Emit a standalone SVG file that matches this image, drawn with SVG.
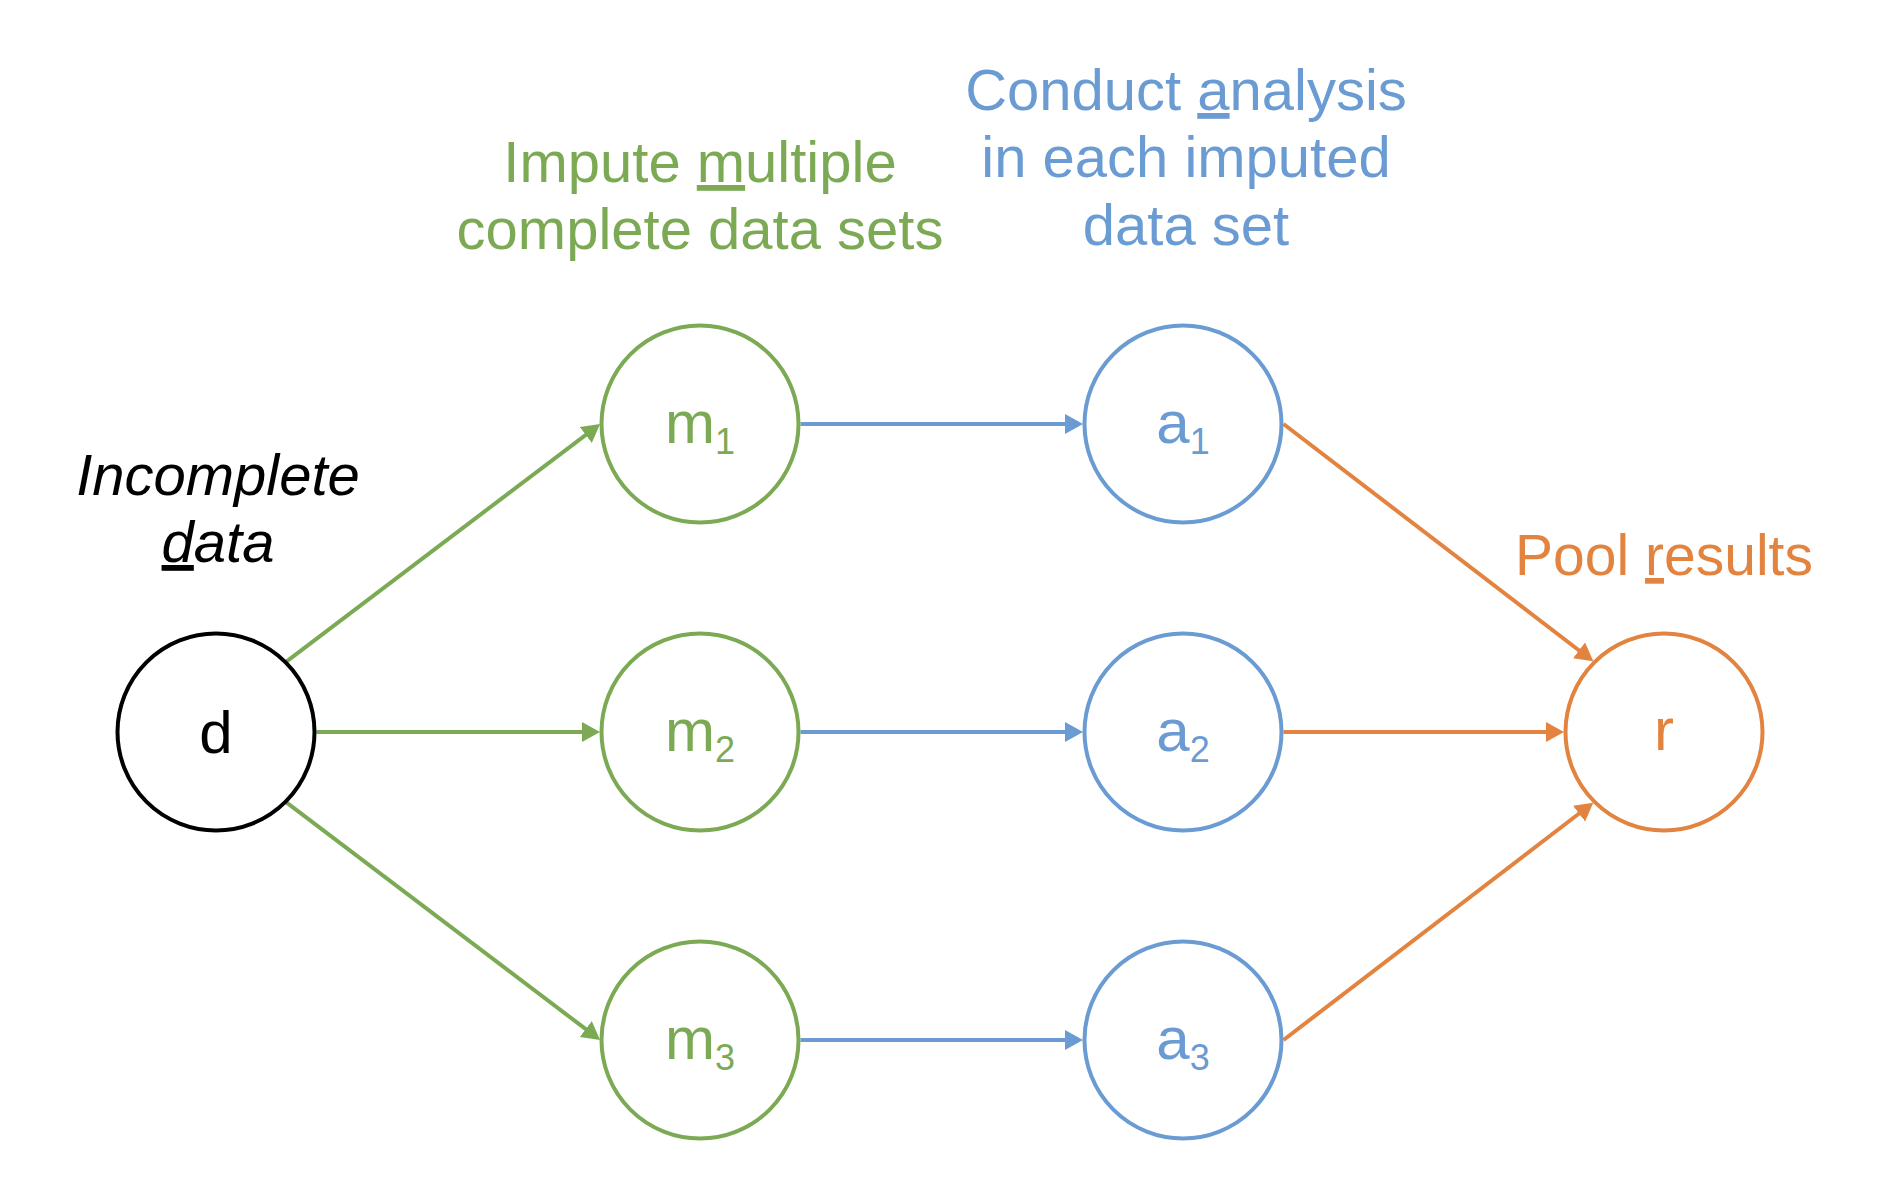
<svg xmlns="http://www.w3.org/2000/svg" width="1900" height="1190" viewBox="0 0 1900 1190">
<style>
  text { font-family: "Liberation Sans", Arial, Helvetica, sans-serif; }
  .node { fill: #ffffff; stroke-width: 4; }
  .lbl { font-size: 60px; text-anchor: middle; }
  .sub { font-size: 36px; }
  .title { font-size: 58px; text-anchor: middle; }
  .g { stroke: #7CAA54; }
  .b { stroke: #6A9BD2; }
  .o { stroke: #E2843F; }
  .k { stroke: #000000; }
  .tg { fill: #7CAA54; }
  .tb { fill: #6A9BD2; }
  .to { fill: #E2843F; }
  .tk { fill: #000000; }
  .edge { fill: none; stroke-width: 4; }
  .u { text-decoration: underline; }
</style>
<defs>
  <marker id="ah-g" markerUnits="userSpaceOnUse" markerWidth="18" markerHeight="20" refX="1" refY="10" orient="auto">
    <path d="M0,0 L18,10 L0,20 z" fill="#7CAA54"/>
  </marker>
  <marker id="ah-b" markerUnits="userSpaceOnUse" markerWidth="18" markerHeight="20" refX="1" refY="10" orient="auto">
    <path d="M0,0 L18,10 L0,20 z" fill="#6A9BD2"/>
  </marker>
  <marker id="ah-o" markerUnits="userSpaceOnUse" markerWidth="18" markerHeight="20" refX="1" refY="10" orient="auto">
    <path d="M0,0 L18,10 L0,20 z" fill="#E2843F"/>
  </marker>
</defs>
<rect width="1900" height="1190" fill="#ffffff"/>

<g id="titles">
  <text class="title tg" x="700" y="182">Impute <tspan class="u">m</tspan>ultiple</text>
  <text class="title tg" x="700" y="249">complete data sets</text>
  <text class="title tb" x="1186" y="110">Conduct <tspan class="u">a</tspan>nalysis</text>
  <text class="title tb" x="1186" y="177">in each imputed</text>
  <text class="title tb" x="1186" y="245">data set</text>
  <text class="tk" x="218" y="495" font-size="58" font-style="italic" text-anchor="middle">Incomplete</text>
  <text class="tk" x="218" y="562" font-size="58" font-style="italic" text-anchor="middle"><tspan class="u">d</tspan>ata</text>
  <text class="to" x="1664" y="575" font-size="57" text-anchor="middle">Pool <tspan class="u">r</tspan>esults</text>
</g>

<g id="connectors">
  <path class="edge g" d="M286.7,661.3 L586.5,434.3" marker-end="url(#ah-g)"/>
  <path class="edge g" d="M316.5,732 L583,732" marker-end="url(#ah-g)"/>
  <path class="edge g" d="M286.7,802.7 L586.5,1029.7" marker-end="url(#ah-g)"/>
  <path class="edge b" d="M800.5,424 L1066,424" marker-end="url(#ah-b)"/>
  <path class="edge b" d="M800.5,732 L1066,732" marker-end="url(#ah-b)"/>
  <path class="edge b" d="M800.5,1040 L1066,1040" marker-end="url(#ah-b)"/>
  <path class="edge o" d="M1283.5,424 L1579.8,651" marker-end="url(#ah-o)"/>
  <path class="edge o" d="M1283.5,732 L1547,732" marker-end="url(#ah-o)"/>
  <path class="edge o" d="M1283.5,1040 L1579.8,813" marker-end="url(#ah-o)"/>
</g>

<g id="node-d">
  <circle class="node k" cx="216" cy="732" r="98.5"/>
  <text class="lbl tk" x="216" y="753">d</text>
</g>
<g id="node-m1">
  <circle class="node g" cx="700" cy="424" r="98.5"/>
  <text class="lbl tg" x="700" y="443">m<tspan class="sub" dy="11">1</tspan></text>
</g>
<g id="node-m2">
  <circle class="node g" cx="700" cy="732" r="98.5"/>
  <text class="lbl tg" x="700" y="751">m<tspan class="sub" dy="11">2</tspan></text>
</g>
<g id="node-m3">
  <circle class="node g" cx="700" cy="1040" r="98.5"/>
  <text class="lbl tg" x="700" y="1059">m<tspan class="sub" dy="11">3</tspan></text>
</g>
<g id="node-a1">
  <circle class="node b" cx="1183" cy="424" r="98.5"/>
  <text class="lbl tb" x="1183" y="443">a<tspan class="sub" dy="11">1</tspan></text>
</g>
<g id="node-a2">
  <circle class="node b" cx="1183" cy="732" r="98.5"/>
  <text class="lbl tb" x="1183" y="751">a<tspan class="sub" dy="11">2</tspan></text>
</g>
<g id="node-a3">
  <circle class="node b" cx="1183" cy="1040" r="98.5"/>
  <text class="lbl tb" x="1183" y="1059">a<tspan class="sub" dy="11">3</tspan></text>
</g>
<g id="node-r">
  <circle class="node o" cx="1664" cy="732" r="98.5"/>
  <text class="lbl to" x="1664" y="750">r</text>
</g>
</svg>
